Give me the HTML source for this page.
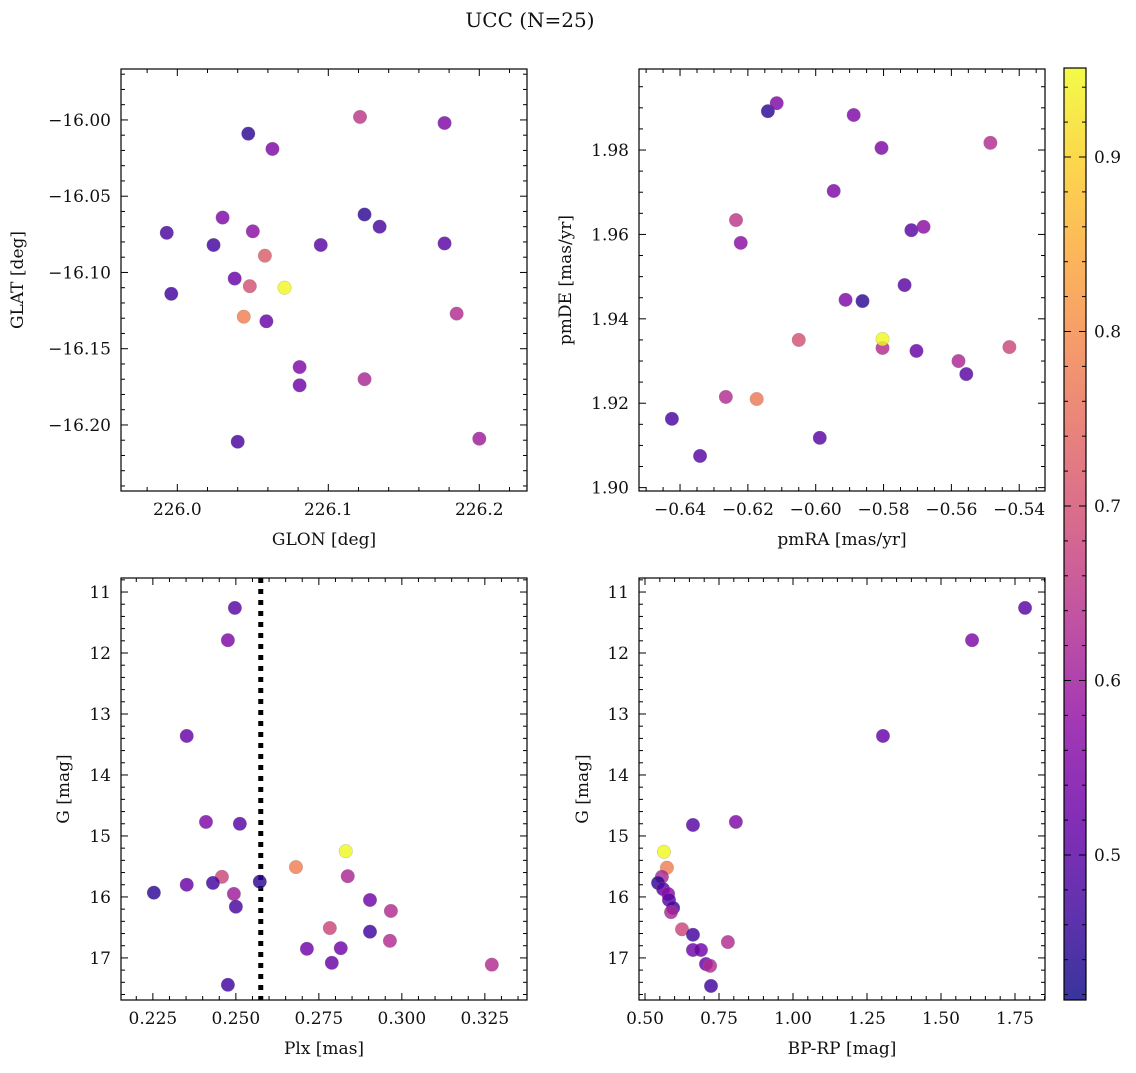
<!DOCTYPE html>
<html><head><meta charset="utf-8"><style>
body{margin:0;background:#fff}
svg text{font-family:"DejaVu Serif","Liberation Serif",serif;fill:#111}
</style></head><body>
<svg id="fig" width="1136" height="1068" xmlns="http://www.w3.org/2000/svg">
<defs><linearGradient id="plasma" x1="0" y1="1" x2="0" y2="0">
<stop offset="0" stop-color="#0d0887"/><stop offset="0.1" stop-color="#41049d"/><stop offset="0.2" stop-color="#6a00a8"/><stop offset="0.3" stop-color="#8f0da4"/><stop offset="0.4" stop-color="#b12a90"/><stop offset="0.5" stop-color="#cc4778"/><stop offset="0.6" stop-color="#e16462"/><stop offset="0.7" stop-color="#f2844b"/><stop offset="0.8" stop-color="#fca636"/><stop offset="0.9" stop-color="#fcce25"/><stop offset="1" stop-color="#f0f921"/></linearGradient></defs>
<text x="530" y="27" font-size="20" text-anchor="middle">UCC (N=25)</text>
</svg>
<script>
// Panel 1: GLON / GLAT
const p1x=[226.121,226.177,226.047,226.063,226.030,226.124,225.993,226.050,226.134,226.024,226.095,226.177,226.058,226.038,225.996,226.048,226.044,226.185,226.059,226.081,226.081,226.124,226.040,226.200,226.071];
const p1y=[-15.998,-16.002,-16.009,-16.019,-16.064,-16.062,-16.074,-16.073,-16.070,-16.082,-16.082,-16.081,-16.089,-16.104,-16.114,-16.109,-16.129,-16.127,-16.132,-16.162,-16.174,-16.170,-16.211,-16.209,-16.110];
const p1c=[0.65,0.55,0.45,0.55,0.55,0.45,0.48,0.57,0.48,0.47,0.5,0.5,0.72,0.52,0.47,0.7,0.78,0.63,0.52,0.55,0.53,0.62,0.48,0.6,0.95];
// Panel 2: pmRA / pmDE
const p2x=[-0.6141,-0.6115,-0.5888,-0.5806,-0.5485,-0.5947,-0.6235,-0.6221,-0.5718,-0.5682,-0.5738,-0.5912,-0.5862,-0.6050,-0.5803,-0.5703,-0.5579,-0.5556,-0.5429,-0.6265,-0.6174,-0.6424,-0.5988,-0.6341,-0.5803];
const p2y=[1.9892,1.9911,1.9883,1.9805,1.9817,1.9703,1.9634,1.9580,1.9610,1.9618,1.9480,1.9445,1.9442,1.9350,1.9331,1.9324,1.9300,1.9269,1.9333,1.9215,1.9210,1.9163,1.9118,1.9075,1.9352];
const p2c=[0.45,0.55,0.55,0.55,0.63,0.55,0.65,0.57,0.5,0.57,0.5,0.55,0.45,0.7,0.63,0.52,0.62,0.5,0.68,0.63,0.77,0.48,0.5,0.5,0.95];
// Panel 3: Plx / G
const p3x=[0.2497,0.2476,0.2352,0.2410,0.2512,0.2681,0.2837,0.2458,0.2352,0.2431,0.2572,0.2253,0.2494,0.2500,0.2904,0.2967,0.2783,0.2904,0.2964,0.2714,0.2816,0.2789,0.3271,0.2476,0.2831];
const p3y=[11.26,11.79,13.36,14.77,14.80,15.51,15.66,15.67,15.80,15.77,15.75,15.93,15.95,16.16,16.05,16.23,16.51,16.57,16.72,16.85,16.84,17.08,17.11,17.44,15.25];
const p3c=[0.5,0.55,0.52,0.55,0.5,0.78,0.62,0.68,0.52,0.47,0.45,0.45,0.6,0.48,0.53,0.63,0.68,0.47,0.63,0.53,0.53,0.52,0.63,0.47,0.95];
const plxLine=0.2575;
// Panel 4: BP-RP / G
const p4x=[1.784,1.605,1.304,0.662,0.807,0.574,0.557,0.544,0.561,0.578,0.581,0.595,0.588,0.625,0.662,0.662,0.689,0.706,0.720,0.780,0.723,0.564];
const p4y=[11.26,11.79,13.36,14.82,14.77,15.52,15.67,15.77,15.87,15.95,16.05,16.18,16.25,16.53,16.62,16.87,16.87,17.10,17.13,16.74,17.46,15.26];
const p4c=[0.5,0.55,0.52,0.5,0.55,0.78,0.62,0.45,0.5,0.57,0.5,0.47,0.62,0.68,0.47,0.53,0.53,0.52,0.63,0.63,0.47,0.95];
// Colorbar
const cbTicks=[0.5,0.6,0.7,0.8,0.9];
const cbMin=0.4169, cbMax=0.951;

const NS="http://www.w3.org/2000/svg";
const fig=document.getElementById('fig');
function el(tag,attrs,parent){const e=document.createElementNS(NS,tag);for(const k in attrs)e.setAttribute(k,attrs[k]);(parent||fig).appendChild(e);return e;}
const stops=[[13,8,135],[65,4,157],[106,0,168],[143,13,164],[177,42,144],[204,71,120],[225,100,98],[242,132,75],[252,166,54],[252,206,37],[240,249,33]];
function cmap(v){let t=(v-cbMin)/(cbMax-cbMin);t=Math.max(0,Math.min(1,t));
 const f=t*10,i=Math.min(9,Math.floor(f)),r=f-i,a=stops[i],b=stops[i+1];
 return `rgb(${a.map((x,k)=>Math.round(x+(b[k]-x)*r)).join(',')})`;}
function fmt(v,d){let s=v.toFixed(d);return s.replace('-','\u2212');}
function panel(o){
 const g=el('g',{});
 
 
 const X=v=>o.L+(v-o.x0)/(o.x1-o.x0)*(o.R-o.L);
 const Y=o.inv? v=>o.T+(v-o.y0)/(o.y1-o.y0)*(o.B-o.T) : v=>o.B-(v-o.y0)/(o.y1-o.y0)*(o.B-o.T);
 const tk=(ticks,minor,axis,dec)=>{
  const lo=axis=='x'?Math.min(o.x0,o.x1):Math.min(o.y0,o.y1),hi=axis=='x'?Math.max(o.x0,o.x1):Math.max(o.y0,o.y1);
  for(let v=Math.ceil(lo/minor-1e-6)*minor;v<=hi+1e-9;v+=minor){
   const maj=ticks.some(t=>Math.abs(t-v)<minor/10);const len=maj?7:4;
   if(axis=='x'){const x=X(v);el('line',{x1:x,x2:x,y1:o.B,y2:o.B-len,stroke:'#000','stroke-width':1},g);el('line',{x1:x,x2:x,y1:o.T,y2:o.T+len,stroke:'#000','stroke-width':1},g);}
   else{const y=Y(v);el('line',{x1:o.L,x2:o.L+len,y1:y,y2:y,stroke:'#000','stroke-width':1},g);el('line',{x1:o.R,x2:o.R-len,y1:y,y2:y,stroke:'#000','stroke-width':1},g);}
  }
  ticks.forEach(t=>{
   const lab=axis=='x'?el('text',{x:X(t),y:o.B+24,'font-size':17,'text-anchor':'middle'},g):el('text',{x:o.L-10,y:Y(t)+6,'font-size':17,'text-anchor':'end'},g);
   lab.textContent=fmt(t,dec);
   
   
  });
 };
 if(o.vline!==undefined){const l=el('line',{x1:X(o.vline),x2:X(o.vline),y1:o.T,y2:o.B,stroke:'#000','stroke-width':5,'stroke-dasharray':'5 6'},g);
  
  }
 o.xs.forEach((v,i)=>{const c=el('circle',{cx:X(v),cy:Y(o.ys[i]),r:6.8,fill:cmap(o.cs[i]),'fill-opacity':0.82,stroke:'#888','stroke-opacity':0.5,'stroke-width':0.5},g);
  
  });
 const fr=el('rect',{x:o.L,y:o.T,width:o.R-o.L,height:o.B-o.T,fill:'none',stroke:'#000','stroke-width':1.2},g);
 
 
 tk(o.xt,o.xm,'x',o.xd);tk(o.yt,o.ym,'y',o.yd);
 const xl=el('text',{x:(o.L+o.R)/2,y:o.B+54,'font-size':17,'text-anchor':'middle'},g);xl.textContent=o.xl;
 
 
 const yx=o.ylx,yy=(o.T+o.B)/2;
 const yl=el('text',{x:yx,y:yy,'font-size':17,'text-anchor':'middle',transform:`rotate(-90 ${yx} ${yy})`},g);yl.textContent=o.yl;
 
 
}
panel({name:'glon-glat-panel',L:121,R:527,T:69,B:491,x0:225.9627,x1:226.2316,y0:-16.2433,y1:-15.9666,xs:p1x,ys:p1y,cs:p1c,xt:[226.0,226.1,226.2],xm:0.02,xd:1,yt:[-16.20,-16.15,-16.10,-16.05,-16.00],ym:0.01,yd:2,xl:'GLON [deg]',yl:'GLAT [deg]',ylx:23});
panel({name:'pm-panel',L:639,R:1045,T:69,B:491,x0:-0.6521,x1:-0.5324,y0:1.8992,y1:1.9992,xs:p2x,ys:p2y,cs:p2c,xt:[-0.64,-0.62,-0.60,-0.58,-0.56,-0.54],xm:0.005,xd:2,yt:[1.90,1.92,1.94,1.96,1.98],ym:0.005,yd:2,xl:'pmRA [mas/yr]',yl:'pmDE [mas/yr]',ylx:571});
panel({name:'plx-g-panel',L:121,R:527,T:578,B:1000,x0:0.2154,x1:0.3377,y0:10.77,y1:17.69,inv:true,xs:p3x,ys:p3y,cs:p3c,xt:[0.225,0.250,0.275,0.300,0.325],xm:0.005,xd:3,yt:[11,12,13,14,15,16,17],ym:0.2,yd:0,xl:'Plx [mas]',yl:'G [mag]',ylx:69,vline:plxLine});
panel({name:'cmd-panel',L:639,R:1045,T:578,B:1000,x0:0.4797,x1:1.8514,y0:10.77,y1:17.69,inv:true,xs:p4x,ys:p4y,cs:p4c,xt:[0.5,0.75,1.0,1.25,1.5,1.75],xm:0.05,xd:2,yt:[11,12,13,14,15,16,17],ym:0.2,yd:0,xl:'BP-RP [mag]',yl:'G [mag]',ylx:588});
const cb=el('g',{});


el('rect',{x:1064,y:68,width:22,height:932,fill:'url(#plasma)','fill-opacity':0.82},cb);
el('rect',{x:1064,y:68,width:22,height:932,fill:'none',stroke:'#000','stroke-width':1.2},cb);
const CY=v=>1000-(v-cbMin)/(cbMax-cbMin)*932;
for(let v=0.42;v<=0.95;v+=0.02){const y=CY(v);const maj=cbTicks.some(t=>Math.abs(t-v)<0.005);const len=maj?7:4;
 el('line',{x1:1064,x2:1064+len,y1:y,y2:y,stroke:'#000'},cb);el('line',{x1:1086,x2:1086-len,y1:y,y2:y,stroke:'#000'},cb);}
cbTicks.forEach(t=>{const tx=el('text',{x:1094,y:CY(t)+6,'font-size':17},cb);tx.textContent=t.toFixed(1);
 
 });
</script>
</body></html>
